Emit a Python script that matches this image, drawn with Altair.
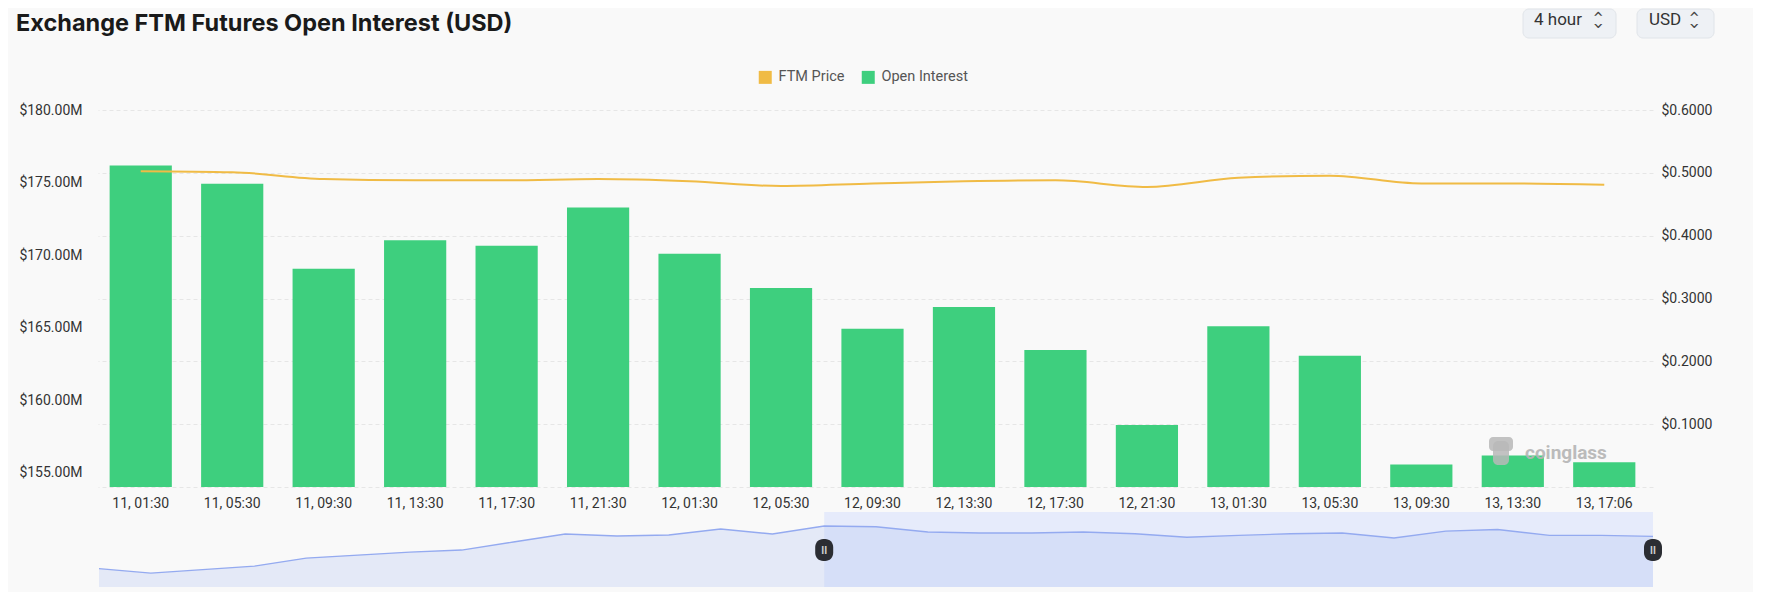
import altair as alt
import pandas as pd

# ---------------- data ----------------
time_labels = ["11, 01:30", "11, 05:30", "11, 09:30", "11, 13:30", "11, 17:30", "11, 21:30",
               "12, 01:30", "12, 05:30", "12, 09:30", "12, 13:30", "12, 17:30", "12, 21:30",
               "13, 01:30", "13, 05:30", "13, 09:30", "13, 13:30", "13, 17:06"]
open_interest_m = [176.17, 174.92, 169.06, 171.02, 170.63, 173.28,
                   170.08, 167.73, 164.92, 166.41, 163.44, 158.28,
                   165.08, 163.05, 155.55, 156.17, 155.70]
ftm_price = [0.5027, 0.5010, 0.4900, 0.4880, 0.4880, 0.4900,
             0.4865, 0.4790, 0.4830, 0.4865, 0.4880, 0.4775,
             0.4920, 0.4955, 0.4830, 0.4830, 0.4810]
# earlier price history shown only in the zoom slider
history_price = [0.4134, 0.4040, 0.4113, 0.4187, 0.4355, 0.4418, 0.4481,
                 0.4523, 0.4691, 0.4859, 0.4817, 0.4838, 0.4964, 0.4859]
slider_window = [14, 30]

left_ticks = [155, 160, 165, 170, 175, 180]
right_ticks = [0, 0.1, 0.2, 0.3, 0.4, 0.5, 0.6]

main_df = pd.DataFrame({"time": time_labels, "oi": open_interest_m,
                        "price": ftm_price, "series": "Open Interest"})
slider_prices = history_price + ftm_price
slider_df = pd.DataFrame({"idx": list(range(len(slider_prices))), "price": slider_prices})
win_df = pd.DataFrame({"start": [slider_window[0]], "end": [slider_window[1]]})
handle_df = pd.DataFrame({"idx": slider_window})

# ---------------- geometry ----------------
W, H = 1558, 477          # plot area (covers main chart + slider)
MAIN_H = 377
FONT = "Roboto"

x_band = alt.Scale(domain=time_labels, range=[0, 1555], paddingInner=0.32, paddingOuter=0.16)
y_oi = alt.Scale(domain=[154, 180], range=[MAIN_H, 0], zero=False, nice=False)
y_price = alt.Scale(domain=[0, 0.6], range=[MAIN_H, 0], nice=False)
sx = alt.Scale(domain=[0, 30], range=[4, 1558], nice=False, zero=False)
sy = alt.Scale(domain=[0.375, 0.532], range=[H, 402], nice=False, zero=False)

base = alt.Chart(main_df)

bars = base.mark_bar(color="#3ecf7e").encode(
    x=alt.X("time:N", scale=x_band, sort=time_labels, title=None,
            axis=alt.Axis(orient="bottom", offset=-(H - MAIN_H), labelAngle=0, ticks=False,
                          domain=False, labelPadding=9, labelFont=FONT, labelFontSize=14,
                          labelColor="#333333", grid=False)),
    y=alt.Y("oi:Q", scale=y_oi, title=None,
            axis=alt.Axis(orient="left", values=left_ticks, grid=False, ticks=False, domain=False,
                          labelPadding=13, labelFont=FONT, labelFontSize=14, labelColor="#333333",
                          labelExpr="'$' + format(datum.value, '.2f') + 'M'")),
    y2=alt.datum(154),
    color=alt.Color("series:N", title=None,
                    scale=alt.Scale(domain=["FTM Price", "Open Interest"],
                                    range=["#f0bb45", "#3ecf7e"]),
                    legend=alt.Legend(orient="none", legendX=663, legendY=-40, direction="horizontal",
                                      symbolType="square", symbolSize=169, symbolStrokeWidth=0,
                                      labelFont=FONT, labelFontSize=14.5, labelColor="#555555",
                                      columnPadding=16, labelOffset=6)),
)

line = base.mark_line(color="#f0bb45", strokeWidth=2, interpolate="monotone").encode(
    x=alt.X("time:N", scale=x_band, sort=time_labels, axis=None),
    y=alt.Y("price:Q", scale=y_price, title=None,
            axis=alt.Axis(orient="right", values=right_ticks, grid=True, gridDash=[4, 3],
                          gridColor="#e6e6e6", ticks=False, domain=False, labelPadding=8,
                          labelFont=FONT, labelFontSize=14, labelColor="#333333",
                          labelExpr="datum.value == 0 ? '' : '$' + format(datum.value, '.4f')")),
)

# ---------------- zoom slider ----------------
sel_bg = alt.Chart(win_df).mark_rect(color="#e3e9fb", opacity=0.9).encode(
    x=alt.X("start:Q", scale=sx, axis=None),
    x2="end:Q",
    y=alt.value(402), y2=alt.value(H),
)
slider_area = alt.Chart(slider_df).mark_area(color="#b4c5f2", opacity=0.3).encode(
    x=alt.X("idx:Q", scale=sx, axis=None),
    y=alt.Y("price:Q", scale=sy, axis=None),
    y2=alt.datum(0.375),
)
slider_line = alt.Chart(slider_df).mark_line(color="#94aaf0", strokeWidth=1.4).encode(
    x=alt.X("idx:Q", scale=sx, axis=None),
    y=alt.Y("price:Q", scale=sy, axis=None),
)
handles = alt.Chart(handle_df).mark_rect(color="#2b2d33", cornerRadius=8,
                                          xOffset=-9, x2Offset=9).encode(
    x=alt.X("idx:Q", scale=sx, axis=None),
    x2="idx:Q",
    y=alt.value(429), y2=alt.value(451),
)
handle_marks = alt.Chart(handle_df).mark_text(text="II", color="#d0d0d0", font=FONT,
                                               fontSize=10, fontWeight="bold").encode(
    x=alt.X("idx:Q", scale=sx, axis=None),
    y=alt.value(440.5),
)

# ---------------- decorations (title, dropdowns, watermark) ----------------
deco = alt.Chart(pd.DataFrame({"k": [0]}))
title = deco.mark_text(text="Exchange FTM Futures Open Interest (USD)", align="left",
                       baseline="alphabetic", font="Inter", fontSize=23.5, fontWeight="bold",
                       color="#1a1a1a").encode(x=alt.value(-79), y=alt.value(-79))

box1 = deco.mark_rect(fill="#eef1f5", stroke="#e0e4e9", strokeWidth=1, cornerRadius=6).encode(
    x=alt.value(1428), x2=alt.value(1521), y=alt.value(-101), y2=alt.value(-72))
box2 = deco.mark_rect(fill="#eef1f5", stroke="#e0e4e9", strokeWidth=1, cornerRadius=6).encode(
    x=alt.value(1542), x2=alt.value(1619), y=alt.value(-101), y2=alt.value(-72))
t1 = deco.mark_text(text="4 hour", align="left", baseline="middle", font=FONT, fontSize=17,
                    color="#333333").encode(x=alt.value(1439), y=alt.value(-90))
t2 = deco.mark_text(text="USD", align="left", baseline="middle", font=FONT, fontSize=17,
                    color="#333333").encode(x=alt.value(1554), y=alt.value(-90))
chev = []
for cx in (1503, 1599):
    chev.append(deco.mark_text(text="‹", angle=90, font="DejaVu Sans", fontSize=17,
                               color="#444444").encode(x=alt.value(cx), y=alt.value(-96)))
    chev.append(deco.mark_text(text="›", angle=90, font="DejaVu Sans", fontSize=17,
                               color="#444444").encode(x=alt.value(cx), y=alt.value(-84)))

wm_icon = deco.mark_rect(color="#b9b9b9", opacity=0.85, cornerRadius=5).encode(
    x=alt.value(1398), x2=alt.value(1414), y=alt.value(331), y2=alt.value(355))
wm_head = deco.mark_rect(color="#b9b9b9", opacity=0.85, cornerRadius=4).encode(
    x=alt.value(1394), x2=alt.value(1418), y=alt.value(327), y2=alt.value(341))
wm_text = deco.mark_text(text="coinglass", align="left", baseline="middle", font=FONT,
                         fontSize=19, fontWeight="bold", color="#b5b5b5", opacity=0.9).encode(
    x=alt.value(1430), y=alt.value(343))

chart = alt.layer(
    bars, line, sel_bg, slider_area, slider_line, handles, handle_marks,
    wm_icon, wm_head, wm_text, title, box1, box2, t1, t2, *chev
).resolve_scale(
    x="independent", y="independent"
).properties(
    width=W, height=H,
    autosize=alt.AutoSizeParams(type="none"),
    padding={"left": 87, "top": 102, "right": 100, "bottom": 5},
    background="#f9f9f9",
).configure_view(
    stroke=None
)

chart.save("out.html", embed_options={"renderer": "svg", "actions": False})
